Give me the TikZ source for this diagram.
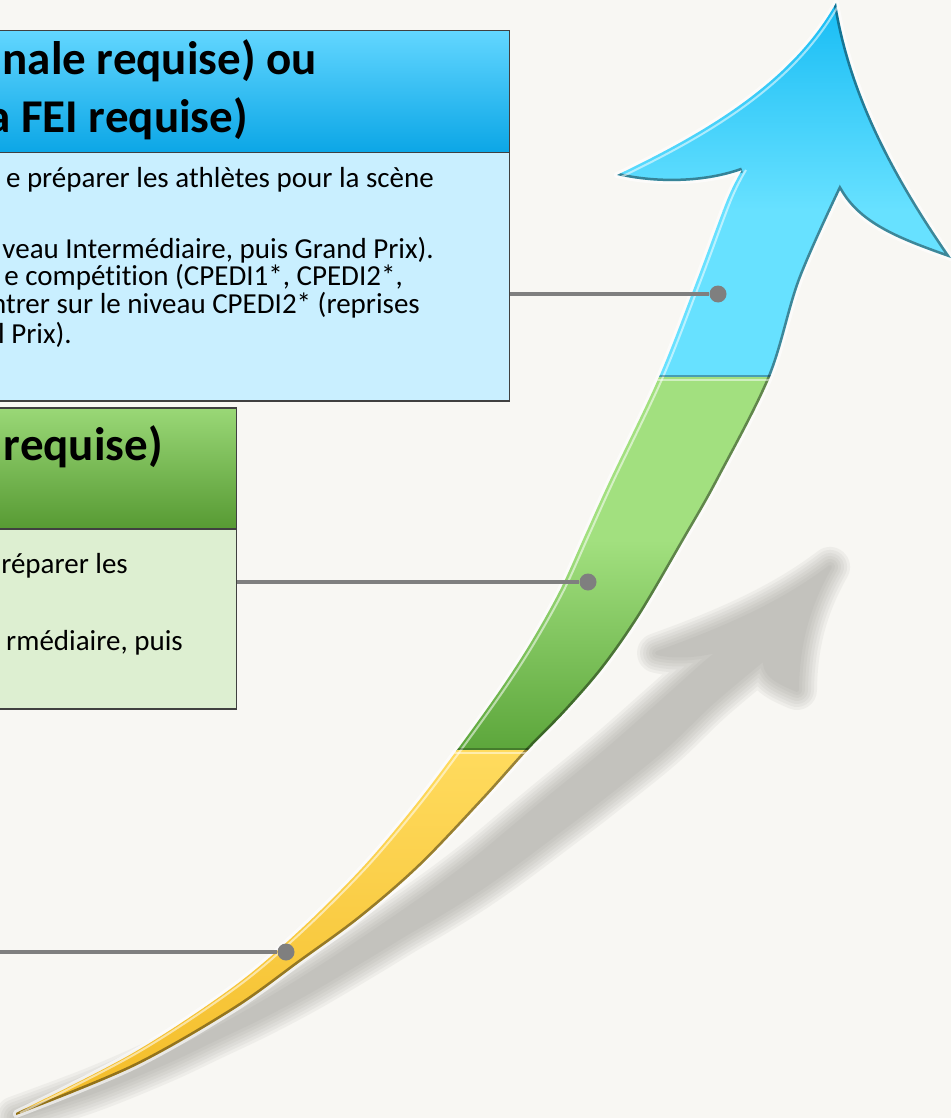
\documentclass[tikz,border=0pt]{standalone}
\usepackage{fontspec}
\setmainfont{Carlito}[Ligatures=NoCommon]
\usetikzlibrary{calc}
\definecolor{paper}{HTML}{F8F7F3}
\definecolor{blueTop}{HTML}{15BBF4}
\definecolor{blueLow}{HTML}{67E1FF}
\definecolor{greenTop}{HTML}{A2E07F}
\definecolor{greenLow}{HTML}{5CA63B}
\definecolor{yellowTop}{HTML}{FFDB5E}
\definecolor{yellowLow}{HTML}{F3BB26}
\definecolor{shadowgray}{HTML}{8E8C85}
\definecolor{linkgray}{HTML}{7F7F7F}
\definecolor{boxline}{HTML}{404040}
\definecolor{blueHeadTop}{HTML}{62D6FF}
\definecolor{blueHeadLow}{HTML}{0BA6E6}
\definecolor{blueBody}{HTML}{C9EFFF}
\definecolor{greenHeadTop}{HTML}{9AD877}
\definecolor{greenHeadLow}{HTML}{579A33}
\definecolor{greenBody}{HTML}{DDEFD1}
\tikzset{
  headbox/.style={draw=boxline, line width=1.5pt, inner sep=0pt, anchor=north east},
  bodybox/.style={draw=boxline, line width=1.5pt, inner sep=0pt, anchor=north east},
  headtext/.style={anchor=base east, inner sep=0pt, font=\fontsize{47}{56}\selectfont\bfseries},
  bodytext/.style={anchor=base east, inner sep=0pt, font=\fontsize{29}{33}\selectfont},
  dotmark/.style={circle, fill=linkgray, inner sep=0pt, minimum size=17pt},
  link/.style={linkgray, line width=4.5pt},
  rimlight/.style={white, opacity=0.55, line width=2pt},
  rimdark/.style={black, opacity=0.4, line width=5pt},
  halo/.style={white, opacity=0.6, line width=6pt, line join=round}
}
% arrow outline, in pixels of the page
\def\arrowleft{plot[smooth, tension=0.55] coordinates {(16,1113) (133,1053) (233,987) (300,930) (362,868) (413,808) (457,750) (500,690) (531,642) (560,590) (585,535) (610,480) (659,377) (697,280) (727,200) (742,170)}}
\def\arrowhead{.. controls (700,185) and (650,183) .. (617,175) .. controls (700,135) and (790,85) .. (836,3) .. controls (850,90) and (890,170) .. (951,258) .. controls (900,240) and (860,225) .. (840,190)}
\def\arrowright{--plot[smooth, tension=0.55] coordinates {(840,190) (800,280) (770,377) (718,480) (684,540) (640,615) (603,668) (565,712) (528,750) (483,800) (420,866) (360,918) (300,962) (233,1010) (133,1067) (16,1115)}}
\def\arrowpath{\arrowleft \arrowhead \arrowright -- cycle}

\begin{document}
\begin{tikzpicture}[x=1pt, y=-1pt]
    \useasboundingbox (0,0) rectangle (951,1118);
    \fill[paper] (0,0) rectangle (951,1118);
    % ---------------------
    \begin{scope}[cm={0.508,0.0104,0.3586,0.487,(406.4pt,-574.2pt)}]
      \foreach \w in {40,34,28,22,16,10,4}{
        \begin{scope}[transparency group, opacity=0.085]
          \filldraw[shadowgray, line width=\w pt, line join=round] \arrowpath;
        \end{scope}
      }
    \end{scope}
    % ---------------------
    \draw[halo] \arrowpath;
    \begin{scope}
      \clip \arrowpath;
      \shade[top color=blueTop, bottom color=blueLow] (540,-5) rectangle (960,210);
      \fill[blueLow] (540,210) rectangle (960,377);
      \fill[greenTop] (400,377) rectangle (820,540);
      \shade[top color=greenTop, bottom color=greenLow] (400,540) rectangle (820,750);
      \shade[top color=yellowTop, bottom color=yellowLow] (0,750) rectangle (620,1120);
      \draw[rimdark] (742,170) .. controls (700,185) and (650,183) .. (617,175);
      \draw[rimdark] (836,3) .. controls (850,90) and (890,170) .. (951,258)
        .. controls (900,240) and (860,225) .. (840,190) \arrowright;
      \draw[rimlight, xshift=4pt] \arrowleft;
      \draw[rimlight, xshift=2pt, yshift=-3pt] (617,175) .. controls (700,135) and (790,85) .. (836,3);
      \draw[black, opacity=0.3, line width=2pt] (540,376) -- (820,376);
      \draw[white, opacity=0.5, line width=2pt] (540,379.5) -- (820,379.5);
      \draw[black, opacity=0.25, line width=2pt] (400,749) -- (620,749);
      \draw[white, opacity=0.5, line width=2pt] (400,752.5) -- (620,752.5);
    \end{scope}
    % ---------------------
    \node[headbox, top color=blueHeadTop, bottom color=blueHeadLow,
      minimum width=525pt, minimum height=122pt] (feihead) at (510,30) {};
    \node[bodybox, fill=blueBody, minimum width=525pt, minimum height=248pt] (feibody) at (510,152) {};
    \node[headbox, top color=greenHeadTop, bottom color=greenHeadLow,
      minimum width=252pt, minimum height=121pt] (nathead) at (237,407) {};
    \node[bodybox, fill=greenBody, minimum width=252pt, minimum height=180pt] (natbody) at (237,528) {};
    % ---------------------
    \draw
    (317,75) node[headtext] (feiA) {nale requise) ou}
    (248,133) node[headtext] (feiB) {a FEI requise)}
    (434,187) node[bodytext] (fei1) {e préparer les athlètes pour la scène}
    (434,258) node[bodytext] (fei2) {veau Intermédiaire, puis Grand Prix).}
    (403,285) node[bodytext] (fei3) {e compétition (CPEDI1*, CPEDI2*,}
    (420,313) node[bodytext] (fei4) {ntrer sur le niveau CPEDI2* (reprises}
    (72,343) node[bodytext] (fei5) {l Prix).};
    % ---------------------
    \draw
    (163,460) node[headtext] (natA) {requise)}
    (128,573) node[bodytext] (nat1) {réparer les}
    (183,650) node[bodytext] (nat2) {rmédiaire, puis};
    % ---------------------
    \node[dotmark] (bluedot) at (718,294) {};
    \node[dotmark] (greendot) at (588,582) {};
    \node[dotmark] (yellowdot) at (286,952) {};
    \coordinate (yellowend) at (-5,952);
    \draw[link] (feibody.east |- bluedot) -- (bluedot);
    \draw[link] (natbody.east |- greendot) -- (greendot);
    \draw[link] (yellowend) -- (yellowdot);
\end{tikzpicture}
\end{document}
